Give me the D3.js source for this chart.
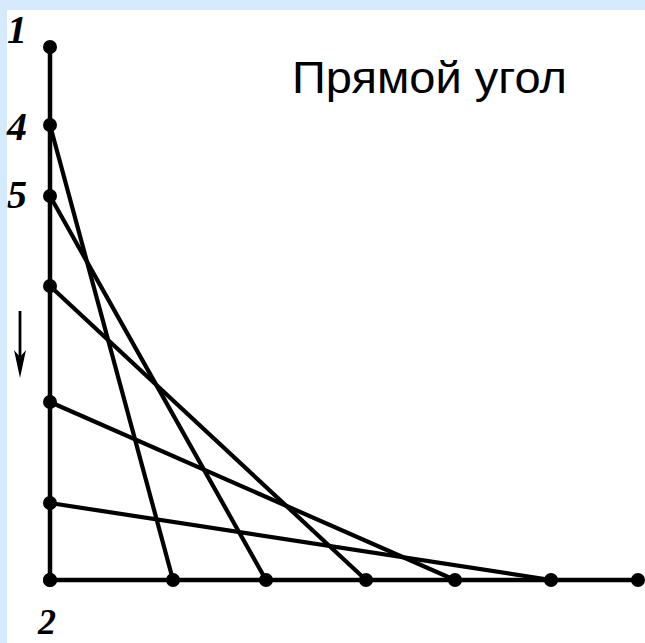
<!DOCTYPE html>
<html><head><meta charset="utf-8">
<script src="https://cdn.jsdelivr.net/npm/d3@7/dist/d3.min.js"></script>
<style>html,body{margin:0;padding:0;background:#d5eafd;}svg{display:block;}</style>
</head><body>
<svg id="c" width="645" height="643"></svg>
<script>
// points on the vertical side (distance from corner 2), bottom to top
const verticalPoints = [0, 77, 178, 294, 384, 455, 533];
// points on the horizontal side (distance from corner 2)
const horizontalPoints = [0, 123, 216, 316, 405, 501, 588];
// string lines: vertical point value -> horizontal point value
const lineFrom = [455, 384, 294, 178, 77];
const lineTo = [123, 216, 316, 405, 501];
const pointLabels = [{t:"1", v:533, b:43}, {t:"4", v:455, b:140}, {t:"5", v:384, b:208}];
const cornerLabel = "2";
const title = "Прямой угол";

const svg = d3.select("#c");
svg.append("rect").attr("x",7).attr("y",10).attr("width",638).attr("height",633).attr("fill","#fff");

const x = d3.scaleLinear().domain([0,588]).range([50,638]);
const y = d3.scaleLinear().domain([0,533]).range([580,47]);

const g = svg.append("g");
// sides
g.append("line").attr("x1",x(0)).attr("x2",x(0)).attr("y1",y(0)).attr("y2",y(533))
 .attr("stroke","#000").attr("stroke-width",4.5);
g.append("line").attr("x1",x(0)).attr("x2",x(588)).attr("y1",y(0)).attr("y2",y(0))
 .attr("stroke","#000").attr("stroke-width",4.5);
// string lines
g.selectAll(".s").data(lineFrom.map((v,i)=>({v, h:lineTo[i]}))).join("line")
 .attr("x1",x(0)).attr("y1",d=>y(d.v)).attr("x2",d=>x(d.h)).attr("y2",y(0))
 .attr("stroke","#000").attr("stroke-width",4.2);
// dots
g.selectAll(".vd").data(verticalPoints).join("circle")
 .attr("cx",x(0)).attr("cy",d=>y(d)).attr("r",7).attr("fill","#000");
g.selectAll(".hd").data(horizontalPoints).join("circle")
 .attr("cx",d=>x(d)).attr("cy",y(0)).attr("r",7).attr("fill","#000");

// labels
const lf = "'Liberation Serif', 'DejaVu Serif', serif";
g.selectAll(".pl").data(pointLabels).join("text")
 .attr("x",17).attr("y",d=>d.b).attr("text-anchor","middle")
 .attr("font-family",lf).attr("font-style","italic").attr("font-weight","bold")
 .attr("font-size",40).text(d=>d.t);
g.append("text").attr("x",47).attr("y",634).attr("text-anchor","middle")
 .attr("font-family",lf).attr("font-style","italic").attr("font-weight","bold")
 .attr("font-size",36).text(cornerLabel);

// arrow
g.append("line").attr("x1",20).attr("x2",20).attr("y1",311).attr("y2",362)
 .attr("stroke","#000").attr("stroke-width",2.8);
g.append("path").attr("d","M14,350 L20,378 L26,350 L20,357 Z").attr("fill","#000");

// title
svg.append("text").attr("x",292).attr("y",93).attr("font-family","'Liberation Sans', Arial, sans-serif")
 .attr("font-size",45).attr("textLength",275).attr("lengthAdjust","spacingAndGlyphs")
 .attr("fill","#000").text(title);
</script>
</body></html>
